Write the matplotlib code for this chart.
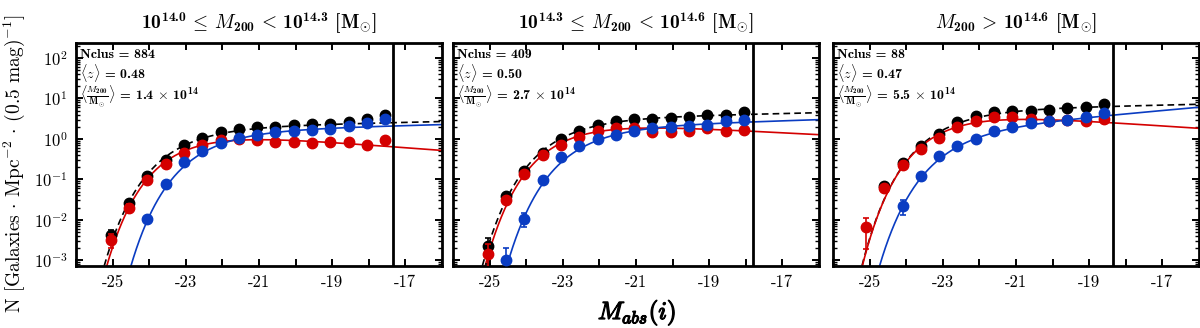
import numpy as np
import matplotlib
matplotlib.use("Agg")
import matplotlib.pyplot as plt
import matplotlib.patheffects as pe

plt.rcParams['mathtext.fontset'] = 'cm'
plt.rcParams['font.family'] = ['cmr10', 'DejaVu Serif']
plt.rcParams['axes.unicode_minus'] = False
plt.rcParams['axes.formatter.use_mathtext'] = True

# ---------------- data ----------------
panel_titles = [r'10$^{\mathdefault{14.0}}\,\leq\, M_{\mathdefault{200}}\,<\,$10$^{\mathdefault{14.3}}$ [M$_{\odot}$]',
                r'10$^{\mathdefault{14.3}}\,\leq\, M_{\mathdefault{200}}\,<\,$10$^{\mathdefault{14.6}}$ [M$_{\odot}$]',
                r'$M_{\mathdefault{200}}\,>\,$10$^{\mathdefault{14.6}}$ [M$_{\odot}$]']
nclus = [884, 409, 88]
mean_z = ['0.48', '0.50', '0.47']
mean_mass = ['1.4', '2.7', '5.5']
mag_limit = [-17.35, -17.8, -18.35]

# panel 1
mag1 = [-25.05, -24.55, -24.05, -23.55, -23.05, -22.55, -22.05, -21.55,
        -21.05, -20.55, -20.05, -19.55, -19.05, -18.55, -18.05, -17.55]
all1 = [0.0043, 0.026, 0.12, 0.30, 0.71, 1.04, 1.46, 1.77, 1.95, 2.0, 2.2, 2.3, 2.35, 2.6, 3.05, 3.8]
all1_err = [0.0012, 0.004, 0.01, 0.02, 0.03, 0.04, 0.05, 0.05, 0.05, 0.05, 0.06, 0.06, 0.06, 0.07, 0.08, 0.1]
red1 = [0.0032, 0.020, 0.098, 0.24, 0.44, 0.71, 0.94, 0.98, 0.95, 0.86, 0.83, 0.81, 0.86, 0.86, 0.71, 0.95]
red1_err = [0.0012, 0.004, 0.01, 0.015, 0.02, 0.03, 0.03, 0.03, 0.03, 0.03, 0.03, 0.03, 0.03, 0.03, 0.03, 0.04]
mag1_blue = [-24.05, -23.55, -23.05, -22.55, -22.05, -21.55, -21.05, -20.55,
             -20.05, -19.55, -19.05, -18.55, -18.05, -17.55]
blue1 = [0.0104, 0.077, 0.275, 0.51, 0.78, 1.04, 1.26, 1.46, 1.6, 1.67, 1.74, 2.1, 2.44, 3.06]
blue1_err = [0.002, 0.008, 0.015, 0.02, 0.03, 0.03, 0.04, 0.04, 0.05, 0.05, 0.05, 0.06, 0.07, 0.08]

# panel 2
mag2 = [-25.05, -24.55, -24.05, -23.55, -23.05, -22.55, -22.05, -21.55,
        -21.05, -20.55, -20.05, -19.55, -19.05, -18.55, -18.05]
all2 = [0.0022, 0.038, 0.16, 0.45, 1.0, 1.55, 2.2, 2.8, 3.05, 3.1, 3.25, 3.45, 3.9, 3.9, 4.55]
all2_err = [0.0014, 0.006, 0.015, 0.03, 0.05, 0.06, 0.07, 0.08, 0.08, 0.09, 0.1, 0.1, 0.12, 0.12, 0.14]
red2 = [0.00145, 0.030, 0.138, 0.39, 0.71, 1.14, 1.58, 1.86, 1.86, 1.51, 1.51, 1.61, 1.86, 1.55, 1.7]
red2_err = [0.0011, 0.005, 0.013, 0.025, 0.04, 0.05, 0.06, 0.06, 0.06, 0.06, 0.06, 0.06, 0.07, 0.07, 0.08]
mag2_blue = [-24.55, -24.05, -23.55, -23.05, -22.55, -22.05, -21.55,
             -21.05, -20.55, -20.05, -19.55, -19.05, -18.55, -18.05]
blue2 = [0.0010, 0.0106, 0.098, 0.35, 0.65, 1.0, 1.28, 1.61, 1.82, 2.0, 2.14, 2.22, 2.7, 3.0]
blue2_err = [0.001, 0.004, 0.01, 0.02, 0.03, 0.04, 0.05, 0.05, 0.06, 0.06, 0.07, 0.07, 0.08, 0.09]

# panel 3
mag3 = [-25.1, -24.6, -24.1, -23.6, -23.1, -22.6, -22.1, -21.6,
        -21.1, -20.6, -20.1, -19.6, -19.1, -18.6]
mag3_all = mag3[1:]
all3 = [0.068, 0.25, 0.65, 1.33, 2.57, 3.63, 4.57, 5.0, 5.0, 5.25, 5.75, 6.0, 7.3]
all3_err = [0.012, 0.03, 0.05, 0.08, 0.12, 0.15, 0.17, 0.18, 0.18, 0.2, 0.22, 0.24, 0.3]
red3 = [0.0066, 0.060, 0.22, 0.56, 1.04, 2.0, 2.8, 3.4, 3.4, 3.1, 2.75, 2.95, 2.7, 3.15]
red3_err = [0.0047, 0.012, 0.025, 0.05, 0.07, 0.1, 0.12, 0.14, 0.14, 0.14, 0.14, 0.15, 0.15, 0.18]
mag3_blue = mag3[2:]
blue3 = [0.022, 0.12, 0.37, 0.68, 1.0, 1.58, 1.95, 2.45, 2.7, 2.95, 3.43, 4.27]
blue3_err = [0.009, 0.015, 0.03, 0.04, 0.06, 0.08, 0.09, 0.1, 0.12, 0.13, 0.15, 0.2]

# Schechter fit parameters: (amplitude, M*, alpha)
fit_all = [(1.95, -23.0, -1.05), (3.24, -22.9, -1.05), (5.25, -22.85, -1.05)]
fit_red = [(1.53, -22.9, -0.83), (2.7, -22.8, -0.88), (4.68, -22.8, -0.85)]
fit_blue = [(1.6, -22.3, -1.06), (2.0, -22.3, -1.07), (1.82, -22.55, -1.2)]

panels = [
    dict(all=all1, all_err=all1_err, mag_all=mag1, red=red1, red_err=red1_err,
         mag_red=mag1, blue=blue1, blue_err=blue1_err, mag_blue=mag1_blue),
    dict(all=all2, all_err=all2_err, mag_all=mag2, red=red2, red_err=red2_err,
         mag_red=mag2, blue=blue2, blue_err=blue2_err, mag_blue=mag2_blue),
    dict(all=all3, all_err=all3_err, mag_all=mag3_all, red=red3, red_err=red3_err,
         mag_red=mag3, blue=blue3, blue_err=blue3_err, mag_blue=mag3_blue),
]

RED = '#d40000'
BLUE = '#0a3cc2'
BLACK = '#000000'


def schechter(M, amp, mstar, alpha):
    x = 10 ** (0.4 * (mstar - M))
    return amp * x ** (alpha + 1) * np.exp(-x)


fig = plt.figure(figsize=(12, 3.28), dpi=100)
lefts = [76 / 1200, 453 / 1200, 833 / 1200]
width = 366 / 1200
bottom = 1 - 266 / 328
height = 223 / 328

Mgrid = np.linspace(-26, -16, 600)
for i, p in enumerate(panels):
    ax = fig.add_axes([lefts[i], bottom, width, height])
    ax.set_yscale('log')
    ax.set_xlim(-26, -16)
    ax.set_ylim(7.2e-4, 235)

    ax.plot(Mgrid, schechter(Mgrid, *fit_all[i]), color=BLACK, lw=1.2, ls=(0, (4, 2.5)), zorder=2)
    ax.plot(Mgrid, schechter(Mgrid, *fit_red[i]), color=RED, lw=1.2, zorder=2)
    ax.plot(Mgrid, schechter(Mgrid, *fit_blue[i]), color=BLUE, lw=1.2, zorder=2)

    ax.errorbar(p['mag_all'], p['all'], yerr=p['all_err'], fmt='o', color=BLACK, ms=7.5,
                capsize=2.5, elinewidth=1.2, capthick=1.2, zorder=3)
    ax.errorbar(p['mag_red'], p['red'], yerr=p['red_err'], fmt='o', color=RED, ms=7.5,
                capsize=2.5, elinewidth=1.2, capthick=1.2, zorder=4)
    ax.errorbar(p['mag_blue'], p['blue'], yerr=p['blue_err'], fmt='o', color=BLUE, ms=7.5,
                capsize=2.5, elinewidth=1.2, capthick=1.2, zorder=5)

    ax.axvline(mag_limit[i], color='black', lw=2, zorder=6)

    ticks = list(range(-26, -15))
    ax.set_xticks(ticks)
    ax.set_xticklabels([str(v) if v % 2 != 0 else '' for v in ticks])
    ax.set_yticks([1e-3, 1e-2, 1e-1, 1e0, 1e1, 1e2])
    if i == 0:
        ax.set_yticklabels([r'$10^{-3}$', r'$10^{-2}$', r'$10^{-1}$', r'$10^{0}$', r'$10^{1}$', r'$10^{2}$'])
    else:
        ax.set_yticklabels([])
    ax.tick_params(which='both', direction='in', top=True, right=True, labelsize=12)
    ax.tick_params(which='major', length=5, width=1.4, pad=6)
    ax.tick_params(which='minor', length=3, width=1.0)
    ax.tick_params(axis='x', which='minor', bottom=False, top=False)
    for s in ax.spines.values():
        s.set_linewidth(2)

    ax.set_title(panel_titles[i], fontsize=14, pad=10, family='cmb10')
    ax.text(0.012, 0.945, 'Nclus = %d' % nclus[i], transform=ax.transAxes,
            fontsize=10, va='center', ha='left', family='cmb10')
    ax.text(0.012, 0.865, r'$\langle z \rangle$ = %s' % mean_z[i],
            transform=ax.transAxes, fontsize=10, va='center', ha='left', family='cmb10')
    ax.text(0.012, 0.76,
            r'$\langle\frac{M_{\mathdefault{200}}}{\mathdefault{M}_{\odot}}\rangle$ = %s $\times$ 10$^{\mathdefault{14}}$' % mean_mass[i],
            transform=ax.transAxes, fontsize=10, va='center', ha='left', family='cmb10')

fig.text(0.012, 0.5, r'N [Galaxies $\cdot$ Mpc$^{-2}$ $\cdot$ (0.5 mag)$^{-1}$]',
         rotation=90, va='center', ha='center', fontsize=14, family='cmr10')
fig.text(637 / 1200, 1 - 313 / 328, r'$\mathit{M_{abs}(i)}$', ha='center', va='center', fontsize=18,
         path_effects=[pe.withStroke(linewidth=0.9, foreground='black')])

fig.savefig('out.png', dpi=100)
